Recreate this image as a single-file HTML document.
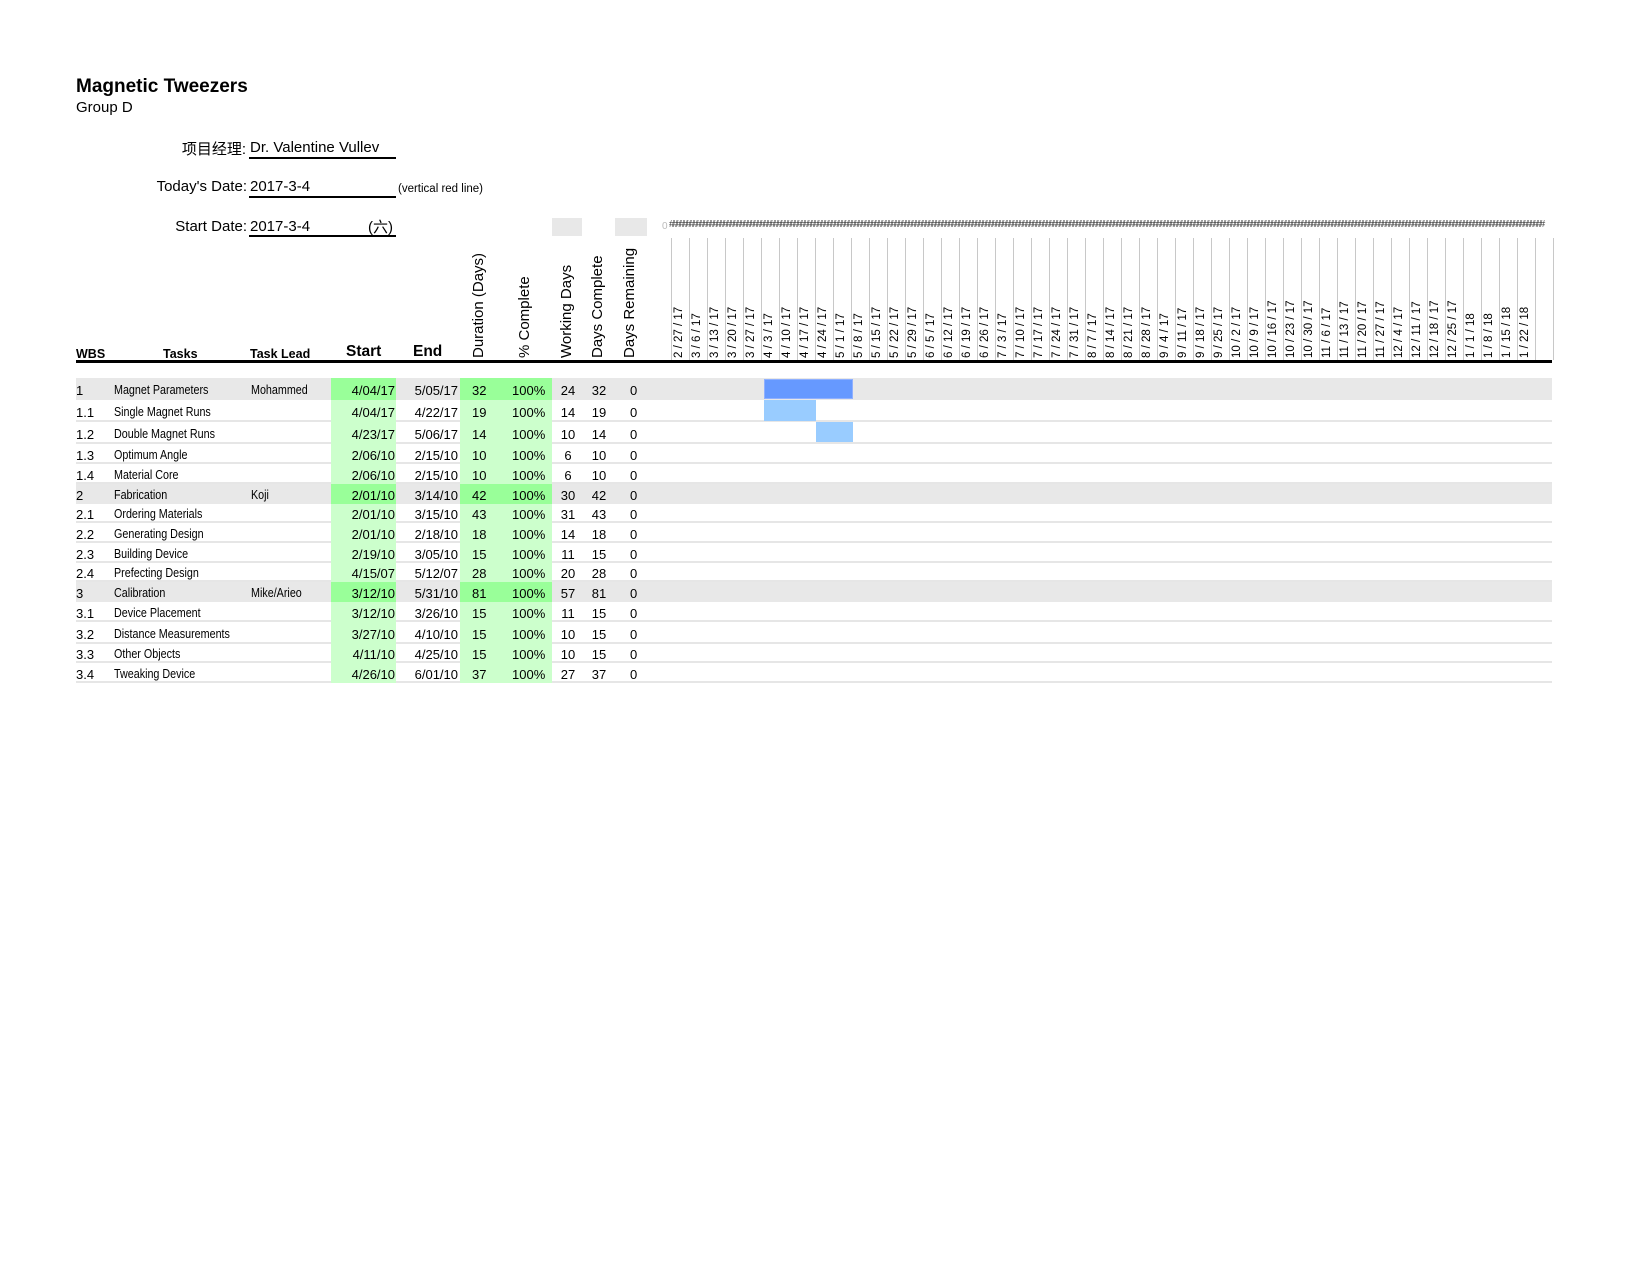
<!DOCTYPE html>
<html><head><meta charset="utf-8">
<style>
body{margin:0;background:#fff;}
#p{position:relative;width:1650px;height:1275px;overflow:hidden;font-family:"Liberation Sans","Noto Sans CJK SC",sans-serif;color:#000;}
.a{position:absolute;white-space:nowrap;}
.v{position:absolute;writing-mode:vertical-rl;transform:rotate(180deg);white-space:nowrap;}
.n{font-size:13px;}
.t{font-size:12.5px;transform:scaleX(0.86);transform-origin:left center;}
</style></head><body><div id="p">
<div class="a" style="left:76px;top:76px;font-size:19px;font-weight:bold;">Magnetic Tweezers</div>
<div class="a" style="left:76px;top:99px;font-size:15px;">Group D</div>

<div class="a" style="left:150px;top:138px;width:96px;text-align:right;font-size:15px;">项目经理:</div>
<div class="a" style="left:250px;top:139px;font-size:15px;">Dr. Valentine Vullev</div>
<div class="a" style="left:249px;top:157px;width:147px;height:2px;background:#000;"></div>

<div class="a" style="left:120px;top:178px;width:127px;text-align:right;font-size:15px;">Today's Date:</div>
<div class="a" style="left:250px;top:178px;font-size:15px;">2017-3-4</div>
<div class="a" style="left:249px;top:196px;width:147px;height:2px;background:#000;"></div>
<div class="a" style="left:398px;top:183px;font-size:11.5px;">(vertical red line)</div>

<div class="a" style="left:120px;top:218px;width:127px;text-align:right;font-size:15px;">Start Date:</div>
<div class="a" style="left:250px;top:218px;font-size:15px;">2017-3-4</div>
<div class="a" style="left:368px;top:216px;font-size:15px;">(六)</div>
<div class="a" style="left:249px;top:235px;width:147px;height:2px;background:#000;"></div>

<div class="a" style="left:552px;top:218px;width:30px;height:18px;background:#e8e8e8;"></div>
<div class="a" style="left:615px;top:218px;width:32px;height:18px;background:#e8e8e8;"></div>

<div class="a" style="left:76px;top:347px;font-size:12.5px;font-weight:bold;">WBS</div>
<div class="a" style="left:163px;top:347px;font-size:12.5px;font-weight:bold;">Tasks</div>
<div class="a" style="left:250px;top:347px;font-size:12.5px;font-weight:bold;">Task Lead</div>
<div class="a" style="left:346px;top:343px;font-size:15.5px;font-weight:bold;">Start</div>
<div class="a" style="left:413px;top:343px;font-size:15.5px;font-weight:bold;">End</div>
<div class="v" style="left:470px;top:250px;height:108px;font-size:15px;">Duration (Days)</div>
<div class="v" style="left:516px;top:250px;height:108px;font-size:15px;">% Complete</div>
<div class="v" style="left:558px;top:250px;height:108px;font-size:15px;">Working Days</div>
<div class="v" style="left:589px;top:250px;height:108px;font-size:15px;">Days Complete</div>
<div class="v" style="left:621px;top:240px;height:118px;font-size:15px;">Days Remaining</div>

<div class="a" style="left:662px;top:221px;font-size:10px;color:#bbb;">0</div>
<div class="a" style="left:669px;top:219px;width:883px;overflow:hidden;font-size:10px;letter-spacing:-2.2px;color:#444;" id="hash"></div>

<div class="a" style="left:76px;top:360px;width:1476px;height:3px;background:#000;"></div>
<div id="g"></div>
<div id="r"></div>
</div>
<script>
var g='';
var labels=["2 / 27 / 17","3 / 6 / 17","3 / 13 / 17","3 / 20 / 17","3 / 27 / 17","4 / 3 / 17","4 / 10 / 17","4 / 17 / 17","4 / 24 / 17","5 / 1 / 17","5 / 8 / 17","5 / 15 / 17","5 / 22 / 17","5 / 29 / 17","6 / 5 / 17","6 / 12 / 17","6 / 19 / 17","6 / 26 / 17","7 / 3 / 17","7 / 10 / 17","7 / 17 / 17","7 / 24 / 17","7 / 31 / 17","8 / 7 / 17","8 / 14 / 17","8 / 21 / 17","8 / 28 / 17","9 / 4 / 17","9 / 11 / 17","9 / 18 / 17","9 / 25 / 17","10 / 2 / 17","10 / 9 / 17","10 / 16 / 17","10 / 23 / 17","10 / 30 / 17","11 / 6 / 17","11 / 13 / 17","11 / 20 / 17","11 / 27 / 17","12 / 4 / 17","12 / 11 / 17","12 / 18 / 17","12 / 25 / 17","1 / 1 / 18","1 / 8 / 18","1 / 15 / 18","1 / 22 / 18"];
labels.push("");
var x0=670.5,w=18.0;
for(var i=0;i<49;i++){var x=x0+i*w;
g+='<div class="a" style="left:'+x+'px;top:238px;width:1px;height:122px;background:#c8c8c8"></div>';
if(labels[i])g+='<div class="v" style="left:'+(x+2)+'px;top:250px;height:108px;font-size:11.5px;">'+labels[i]+'</div>';}
g+='<div class="a" style="left:'+(x0+49*w)+'px;top:238px;width:1px;height:122px;background:#c8c8c8"></div>';
document.getElementById('g').innerHTML=g;
document.getElementById('hash').textContent='#'.repeat(260);
var rows=[
["1","Magnet Parameters","Mohammed","4/04/17","5/05/17","32","24","32",1],
["1.1","Single Magnet Runs","","4/04/17","4/22/17","19","14","19",0],
["1.2","Double Magnet Runs","","4/23/17","5/06/17","14","10","14",0],
["1.3","Optimum Angle","","2/06/10","2/15/10","10","6","10",0],
["1.4","Material Core","","2/06/10","2/15/10","10","6","10",0],
["2","Fabrication","Koji","2/01/10","3/14/10","42","30","42",1],
["2.1","Ordering Materials","","2/01/10","3/15/10","43","31","43",0],
["2.2","Generating Design","","2/01/10","2/18/10","18","14","18",0],
["2.3","Building Device","","2/19/10","3/05/10","15","11","15",0],
["2.4","Prefecting Design","","4/15/07","5/12/07","28","20","28",0],
["3","Calibration","Mike/Arieo","3/12/10","5/31/10","81","57","81",1],
["3.1","Device Placement","","3/12/10","3/26/10","15","11","15",0],
["3.2","Distance Measurements","","3/27/10","4/10/10","15","10","15",0],
["3.3","Other Objects","","4/11/10","4/25/10","15","10","15",0],
["3.4","Tweaking Device","","4/26/10","6/01/10","37","27","37",0]];
var tops=[378,400,422,444,464,484,504,523,543,563,582,602,622,644,663,683];
var h='';
for(var i=0;i<rows.length;i++){var r=rows[i],t=tops[i],hh=tops[i+1]-t,par=r[8];
var gr=par?'#99ff99':'#ccffcc';
if(par)h+='<div class="a" style="left:76px;top:'+t+'px;width:1476px;height:'+hh+'px;background:#e8e8e8"></div>';
else h+='<div class="a" style="left:76px;top:'+(t+hh-2)+'px;width:1476px;height:2px;background:#e6e6e6"></div>';
h+='<div class="a" style="left:331px;top:'+t+'px;width:65px;height:'+hh+'px;background:'+gr+'"></div>';
h+='<div class="a" style="left:460px;top:'+t+'px;width:92px;height:'+hh+'px;background:'+gr+'"></div>';
var ty=t+hh/2-6.5;
h+='<div class="a n" style="left:76px;top:'+ty+'px">'+r[0]+'</div>';
h+='<div class="a t" style="left:114px;top:'+ty+'px">'+r[1]+'</div>';
h+='<div class="a t" style="left:251px;top:'+ty+'px">'+r[2]+'</div>';
h+='<div class="a n" style="left:331px;top:'+ty+'px;width:64px;text-align:right">'+r[3]+'</div>';
h+='<div class="a n" style="left:400px;top:'+ty+'px;width:58px;text-align:right">'+r[4]+'</div>';
h+='<div class="a n" style="left:472px;top:'+ty+'px">'+r[5]+'</div>';
h+='<div class="a n" style="left:512px;top:'+ty+'px">100%</div>';
h+='<div class="a n" style="left:560px;top:'+ty+'px;width:16px;text-align:center">'+r[6]+'</div>';
h+='<div class="a n" style="left:590px;top:'+ty+'px;width:18px;text-align:center">'+r[7]+'</div>';
h+='<div class="a n" style="left:630px;top:'+ty+'px">0</div>';
}
h+='<div class="a" style="left:764px;top:379px;width:89px;height:20px;background:#6699ff;border:1px solid #8fb0ff;box-sizing:border-box"></div>';
h+='<div class="a" style="left:764px;top:400px;width:52px;height:21px;background:#99ccff"></div>';
h+='<div class="a" style="left:816px;top:422px;width:37px;height:20px;background:#99ccff"></div>';
document.getElementById('r').innerHTML=h;
</script>
</body></html>
